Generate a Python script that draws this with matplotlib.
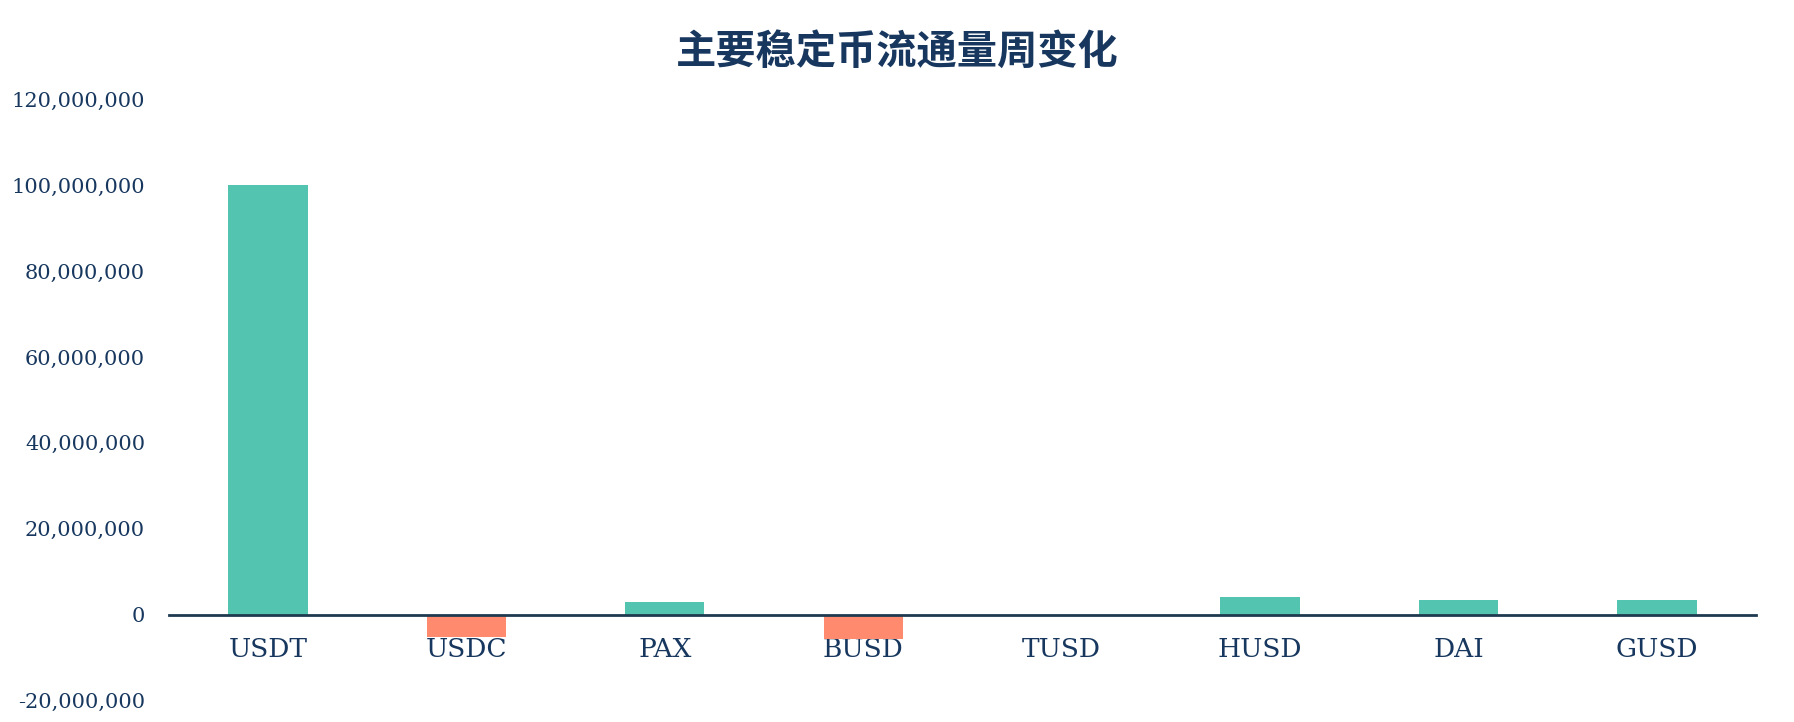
import matplotlib
matplotlib.use("Agg")
import matplotlib.pyplot as plt
from matplotlib.ticker import FuncFormatter

categories = ["USDT", "USDC", "PAX", "BUSD", "TUSD", "HUSD", "DAI", "GUSD"]
changes = [100_000_000, -5_300_000, 3_000_000, -5_600_000, 0, 4_000_000, 3_500_000, 3_500_000]
yticks = [-20_000_000, 0, 20_000_000, 40_000_000, 60_000_000, 80_000_000, 100_000_000, 120_000_000]
title = "主要稳定币流通量周变化"

pos_color = "#52C4B0"
neg_color = "#FF8A6E"
text_color = "#17375E"

fig = plt.figure(figsize=(17.94, 7.22), dpi=100)
ax = fig.add_axes([0.094, 0.030, 0.885, 0.832])

colors = [pos_color if v >= 0 else neg_color for v in changes]
x = list(range(len(categories)))
ax.bar(x, changes, width=0.4, color=colors, zorder=2)

ax.set_xlim(-0.5, len(categories) - 0.5)
ax.set_ylim(-20_000_000, 120_000_000)
ax.set_yticks(yticks)
ax.yaxis.set_major_formatter(FuncFormatter(lambda v, p: f"{int(v):,}"))
ax.set_xticks(x)
ax.set_xticklabels(categories)

for s in ["top", "right", "left"]:
    ax.spines[s].set_visible(False)
ax.spines["bottom"].set_position(("data", 0))
ax.spines["bottom"].set_color("#1F3A4F")
ax.spines["bottom"].set_linewidth(2)
ax.spines["bottom"].set_zorder(3)

ax.tick_params(axis="y", length=0, pad=17, labelsize=15, labelcolor=text_color)
ax.tick_params(axis="x", length=0, pad=16, labelsize=19, labelcolor=text_color)
for lab in ax.get_yticklabels() + ax.get_xticklabels():
    lab.set_fontfamily("DejaVu Serif")

fig.text(0.5, 0.928, title, ha="center", va="center", fontsize=29, fontweight="bold",
         color=text_color, family=["Noto Sans CJK SC", "DejaVu Sans"])

fig.savefig("out.png", dpi=100, facecolor="white")
